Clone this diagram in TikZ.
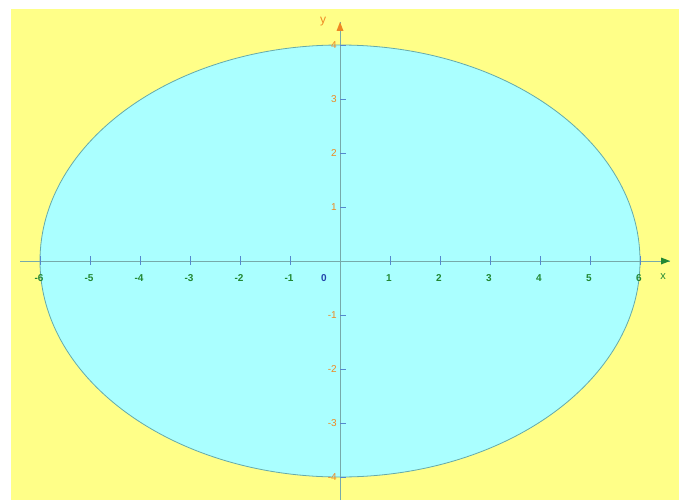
\documentclass[tikz,border=0pt]{standalone}
\usepackage{fontspec}
\setmainfont{Liberation Sans}
\usetikzlibrary{arrows.meta}
\definecolor{bgyellow}{HTML}{FFFF88}
\definecolor{ellfill}{HTML}{AAFFFF}
\definecolor{ellline}{HTML}{66AAAA}
\definecolor{axiscol}{HTML}{77AAAA}
\definecolor{tickcol}{HTML}{5588CC}
\definecolor{xlab}{HTML}{228833}
\definecolor{ylab}{HTML}{EE8822}
\definecolor{zerolab}{HTML}{2244AA}
\begin{document}
\begin{tikzpicture}[x=1pt,y=-1pt,
  axisline/.style={draw=axiscol,line width=1pt},
  tickmark/.style={draw=tickcol,line width=0.9pt},
  xticklab/.style={text=xlab,font=\fontsize{10}{10}\selectfont\bfseries,inner sep=0pt},
  yticklab/.style={text=ylab,font=\fontsize{10}{10}\selectfont,inner sep=0pt},
]
\useasboundingbox (0,0) rectangle (687,500);
\fill[white] (0,0) rectangle (687,500);
\fill[bgyellow] (11,9) rectangle (679,500);
\draw[fill=ellfill,draw=ellline,line width=0.8pt] (340,261) ellipse [x radius=300, y radius=216];
% axes
\coordinate (xs) at (20,261);
\coordinate (xe) at (670,261);
\coordinate (ys) at (340,500);
\coordinate (ye) at (340,22);
\draw[axisline] (xs) -- (xe);
\draw[axisline] (ys) -- (ye);
\fill[xlab] (xe) -- ++(-9,-3.5) -- ++(0,7) -- cycle;
\fill[ylab] (ye) -- ++(-3.5,9) -- ++(7,0) -- cycle;
\node[text=xlab,font=\fontsize{11}{11}\selectfont,inner sep=0pt] (xl) at (663,277) {x};
\node[text=ylab,font=\fontsize{12}{12}\selectfont,inner sep=0pt] (yl) at (323,22) {y};
% x ticks
\foreach \i in {-6,...,-1,1,2,...,6} {
  \draw[tickmark] (340+50*\i,256) -- (340+50*\i,265);
  \node[xticklab] (xt\i) at (340+50*\i-1,278) {\i};
}
\node[text=zerolab,font=\fontsize{10}{10}\selectfont\bfseries,inner sep=0pt] (zero) at (324,278) {0};
% y ticks
\foreach \j in {-4,...,-1,1,2,...,4} {
  \draw[tickmark] (340,261-54*\j) -- (346,261-54*\j);
  \node[yticklab,anchor=east] (yt\j) at (337,261-54*\j) {\j};
}
\end{tikzpicture}
\end{document}
